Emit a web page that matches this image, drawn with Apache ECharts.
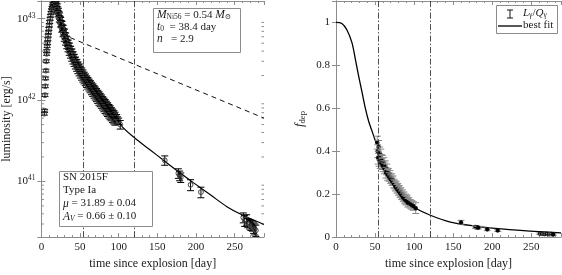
<!DOCTYPE html>
<html><head><meta charset="utf-8">
<script src="https://cdn.jsdelivr.net/npm/echarts@6/dist/echarts.min.js"></script>
<style>html,body{margin:0;padding:0;background:#fff}#c{width:562px;height:275px}</style>
</head><body><div id="c"></div>
<script>
// ---------- data (luminosity in units of 1e42 erg/s) ----------
const LUM_UNIT = 1e42;
const riseDays = [3.8, 4.2, 4.6, 5.0, 5.4, 5.8, 6.3, 6.8, 7.0, 7.5, 7.8, 8.3, 8.7, 9.2, 9.7, 10.2, 10.7, 11.3, 11.9, 12.5, 13.1, 13.8, 14.5, 15.2, 15.8, 16.5, 17.1, 17.8, 18.4];
const riseVals = [0.68, 0.74, 1.15, 1.48, 1.85, 2.3, 3.0, 3.7, 4.0, 4.6, 5.0, 5.6, 6.2, 6.8, 7.5, 8.3, 9.1, 10.0, 10.9, 11.8, 12.7, 13.6, 14.2, 14.7, 15.2, 15.5, 15.6, 15.5, 15.3];
const riseErrFrac = 0.04;

const bandDays = [19.0,19.8,20.5,21.2,22.0,22.8,23.5,24.3,25.0,25.8,26.6,27.4,28.2,29.0,29.8,30.6,31.4,32.2,33.0,33.8,34.6,35.4,36.2,37.0,37.8,38.6,39.4,40.2,41.0,41.8,42.6,43.4,44.2,45.0,45.8,46.6,47.4,48.2,49.0,49.8,50.6,51.4,52.2,53.0,53.8,54.6,55.4,56.2,57.0,57.8,58.6,59.4,60.2,61.0,61.8,62.6,63.4,64.2,65.0,65.8,66.6,67.4,68.2,69.0,69.8,70.6,71.4,72.2,73.0,73.8,74.6,75.4,76.2,77.0,77.8,78.6,79.4,80.2,81.0,81.8,82.6,83.4,84.2,85.0,85.8,86.6,87.4,88.2,89.0,89.8,90.6,91.4,92.2,93.0,93.8,94.6,95.4,96.4,97.4,98.6,100.0];
const bandVals = [15.0,14.2,13.9,12.8,12.3,11.2,10.8,9.8,9.5,8.7,8.5,7.7,7.6,6.9,6.8,6.2,6.1,5.6,5.5,5.0,5.0,4.6,4.6,4.2,4.2,3.85,3.9,3.55,3.6,3.3,3.35,3.05,3.1,2.85,2.9,2.65,2.7,2.5,2.55,2.35,2.4,2.2,2.28,2.08,2.15,1.98,2.02,1.88,1.92,1.78,1.82,1.7,1.74,1.62,1.66,1.55,1.59,1.48,1.52,1.42,1.45,1.35,1.39,1.3,1.33,1.24,1.27,1.19,1.21,1.13,1.16,1.08,1.11,1.03,1.06,0.99,1.01,0.95,0.97,0.91,0.93,0.87,0.89,0.83,0.85,0.79,0.81,0.76,0.78,0.72,0.74,0.69,0.71,0.66,0.68,0.63,0.65,0.6,0.61,0.57,0.55];
// second, slightly offset set of band observations (other filters)
const band2Days = [20.0,21.6,23.2,24.8,26.4,28.0,29.6,31.2,32.8,34.4,36.0,37.6,39.2,40.8,42.4,44.0,45.6,47.2,48.8,50.4,52.0,53.6,55.2,56.8,58.4,60.0,61.6,63.2,64.8,66.4,68.0,69.6,71.2,72.8,74.4,76.0,77.6,79.2,80.8,82.4,84.0,85.6,87.2,88.8,90.4,92.0,93.6,95.2];
const band2Vals = [13.0,11.6,10.0,8.7,7.5,6.6,5.8,5.2,4.7,4.3,3.9,3.6,3.3,3.05,2.85,2.65,2.48,2.32,2.18,2.05,1.93,1.83,1.74,1.65,1.57,1.5,1.42,1.35,1.28,1.22,1.16,1.1,1.05,1.0,0.95,0.91,0.87,0.83,0.79,0.75,0.72,0.69,0.66,0.63,0.61,0.58,0.56,0.54];
const bandErrFrac = 0.09;

const lateDays = [102.0, 159.6, 177.2, 178.8, 180.3, 193.0, 206.4, 261.2, 263.0, 265.5, 267.0, 269.5, 271.0, 273.0, 274.5, 276.0, 277.5];
const lateVals = [0.50, 0.182, 0.126, 0.118, 0.112, 0.091, 0.074, 0.036, 0.033, 0.034, 0.031, 0.030, 0.029, 0.0285, 0.027, 0.026, 0.025];
const lateErr  = [0.06, 0.024, 0.017, 0.016, 0.015, 0.014, 0.011, 0.005, 0.005, 0.005, 0.004, 0.004, 0.004, 0.004, 0.004, 0.004, 0.004];

const fitDays = [18, 20, 25, 30, 40, 55, 70, 85, 102, 120, 140, 158, 180, 197, 220, 240, 260, 288];
const fitVals = [15.5, 14.0, 10.0, 6.8, 3.75, 1.98, 1.25, 0.84, 0.50, 0.346, 0.247, 0.182, 0.126, 0.096, 0.067, 0.049, 0.0386, 0.0296];

const decayDays = [37.3, 288];
const decayVals = [5.85, 0.60];

const markerDays = [54.6, 120];

// f_dep panel
const fdepDays = [52.8,53.4,54.0,54.6,55.2,55.8,56.5,57.3,58.0,58.8,59.6,60.4,61.2,62.0,63.0,64.0,65.0,66.0,67.0,68.0,69.0,70.0,71.0,72.0,73.0,74.0,75.0,76.0,77.0,78.0,79.0,80.0,81.0,82.0,83.0,84.0,85.0,86.0,87.0,88.0,89.0,90.0,91.0,92.0,93.0,95.0,97.0,99.0,102.0,160.0,178.5,180.5,182.0,193.6,207.0,261.0,264.0,267.0,270.0,273.0,276.0,278.0];
const fdepVals = [0.44,0.40,0.37,0.42,0.36,0.39,0.35,0.38,0.36,0.34,0.355,0.33,0.345,0.32,0.33,0.30,0.315,0.29,0.30,0.28,0.29,0.27,0.275,0.26,0.265,0.25,0.245,0.235,0.24,0.225,0.23,0.215,0.22,0.205,0.21,0.195,0.20,0.185,0.19,0.175,0.18,0.17,0.175,0.16,0.165,0.155,0.15,0.145,0.135,0.069,0.047,0.045,0.044,0.036,0.031,0.016,0.015,0.014,0.015,0.013,0.014,0.012];
const fdepErr  = [0.03,0.03,0.03,0.03,0.03,0.03,0.03,0.03,0.025,0.025,0.025,0.025,0.025,0.025,0.025,0.025,0.025,0.025,0.02,0.02,0.02,0.02,0.02,0.02,0.02,0.02,0.02,0.02,0.02,0.02,0.02,0.02,0.02,0.02,0.02,0.02,0.02,0.02,0.02,0.02,0.02,0.02,0.02,0.02,0.02,0.02,0.02,0.02,0.025,0.009,0.006,0.006,0.006,0.006,0.005,0.004,0.004,0.004,0.004,0.004,0.004,0.004];

const fdepFitDays = [0, 7.5, 14, 20.5, 24.7, 29, 33.3, 37.6, 41.8, 46, 50.3, 54.6, 61, 73.8, 86.7, 99.5, 120, 146.5, 180, 200, 240, 288];
const fdepFitVals = [1.0, 0.995, 0.965, 0.905, 0.83, 0.75, 0.675, 0.60, 0.54, 0.495, 0.45, 0.418, 0.335, 0.25, 0.185, 0.14, 0.103, 0.07, 0.05, 0.042, 0.03, 0.02];

const xTicksInterval = 50;

// ---------- chart ----------
const FONT = "'Liberation Serif','DejaVu Serif',serif";
const FRAME = '#8c8c8c';
const TXT = '#1a1a1a';

const lumPoints = [];
riseDays.forEach((d, i) => lumPoints.push([d, riseVals[i] * LUM_UNIT, riseVals[i] * riseErrFrac * LUM_UNIT]));
bandDays.forEach((d, i) => lumPoints.push([d, bandVals[i] * LUM_UNIT, bandVals[i] * bandErrFrac * LUM_UNIT]));
band2Days.forEach((d, i) => lumPoints.push([d, band2Vals[i] * LUM_UNIT, band2Vals[i] * bandErrFrac * LUM_UNIT]));
lateDays.forEach((d, i) => lumPoints.push([d, lateVals[i] * LUM_UNIT, lateErr[i] * LUM_UNIT]));

const fdepPoints = fdepDays.map((d, i) => [d, fdepVals[i], fdepErr[i]]);

function errRenderer(cfg) {
  return function (params, api) {
    const x = api.value(0), y = api.value(1), e = api.value(2);
    const p = api.coord([x, y]);
    const lo = api.coord([x, Math.max(y - e, y * 0.05)]);
    const hi = api.coord([x, y + e]);
    const cw = cfg.cap;
    const ls = { stroke: cfg.bar, lineWidth: cfg.lw };
    const children = [
      { type: 'line', shape: { x1: p[0], y1: lo[1], x2: p[0], y2: hi[1] }, style: ls },
      { type: 'line', shape: { x1: p[0] - cw, y1: lo[1], x2: p[0] + cw, y2: lo[1] }, style: ls },
      { type: 'line', shape: { x1: p[0] - cw, y1: hi[1], x2: p[0] + cw, y2: hi[1] }, style: ls }
    ];
    if (cfg.circle) {
      children.push({ type: 'circle', shape: { cx: p[0], cy: p[1], r: cfg.r }, style: cfg.circle });
    }
    return { type: 'group', children };
  };
}

// log minor tick positions (axis decoration)
const LMIN = 2.07e40, LMAX = 1.65e43;
const minorLog = [];
for (let dec = 40; dec <= 43; dec++) for (let k = 2; k <= 9; k++) {
  const v = k * Math.pow(10, dec);
  if (v > LMIN && v < LMAX) minorLog.push([0, v]);
}

function xAxisCfg(grid, pos, withLabels) {
  return {
    type: 'value', gridIndex: grid, position: pos, min: 0, max: 288, interval: xTicksInterval,
    axisLine: { show: true, onZero: false, lineStyle: { color: FRAME, width: 1 } },
    axisTick: { show: true, inside: true, length: 4, lineStyle: { color: FRAME } },
    minorTick: { show: true, splitNumber: 5, length: 2, lineStyle: { color: FRAME } },
    splitLine: { show: false }, minorSplitLine: { show: false },
    axisLabel: { show: withLabels, showMaxLabel: false, fontFamily: FONT, fontSize: 11, color: TXT, margin: 5 },
    name: withLabels ? 'time since explosion [day]' : '',
    nameLocation: 'middle', nameGap: 20,
    nameTextStyle: { fontFamily: FONT, fontSize: 12, color: TXT }
  };
}

const option = {
  animation: false,
  backgroundColor: '#fff',
  grid: [
    { left: 39, top: 1, width: 225, height: 241 },
    { left: 336, top: 1, width: 225, height: 241 }
  ],
  xAxis: [
    xAxisCfg(0, 'bottom', true),
    xAxisCfg(0, 'top', false),
    xAxisCfg(1, 'bottom', true),
    xAxisCfg(1, 'top', false)
  ],
  yAxis: [
    {
      type: 'log', logBase: 10, gridIndex: 0, position: 'left', min: LMIN, max: LMAX,
      axisLine: { show: true, lineStyle: { color: FRAME } },
      axisTick: { show: true, inside: true, length: 4, lineStyle: { color: FRAME } },
      splitLine: { show: false },
      axisLabel: {
        showMinLabel: false, showMaxLabel: false, margin: 6,
        formatter: v => '{b|10}{s|' + Math.round(Math.log10(v)) + '}',
        rich: {
          b: { fontFamily: FONT, fontSize: 11, lineHeight: 14, color: TXT },
          s: { fontFamily: FONT, fontSize: 7.5, lineHeight: 5, verticalAlign: 'top', color: TXT }
        }
      },
      name: 'luminosity [erg/s]', nameLocation: 'middle', nameGap: 28,
      nameTextStyle: { fontFamily: FONT, fontSize: 12, color: TXT }
    },
    {
      type: 'log', logBase: 10, gridIndex: 0, position: 'right', min: LMIN, max: LMAX,
      axisLine: { show: true, lineStyle: { color: FRAME } },
      axisTick: { show: true, inside: true, length: 4, lineStyle: { color: FRAME } },
      splitLine: { show: false }, axisLabel: { show: false }
    },
    {
      type: 'value', gridIndex: 1, position: 'left', min: 0, max: 1.1, interval: 0.2,
      axisLine: { show: true, lineStyle: { color: FRAME } },
      axisTick: { show: true, inside: true, length: 4, lineStyle: { color: FRAME } },
      splitLine: { show: false },
      axisLabel: { showMaxLabel: false, fontFamily: FONT, fontSize: 11, color: TXT, margin: 6 },
      name: '{f|f}{d|dep}', nameLocation: 'middle', nameGap: 29,
      nameTextStyle: {
        rich: {
          f: { fontFamily: FONT, fontStyle: 'italic', fontSize: 13, lineHeight: 14, color: TXT },
          d: { fontFamily: FONT, fontSize: 8.5, lineHeight: 7, verticalAlign: 'bottom', color: TXT }
        }
      }
    },
    {
      type: 'value', gridIndex: 1, position: 'right', min: 0, max: 1.1, interval: 0.2,
      axisLine: { show: true, lineStyle: { color: FRAME } },
      axisTick: { show: true, inside: true, length: 4, lineStyle: { color: FRAME } },
      splitLine: { show: false }, axisLabel: { show: false }
    }
  ],
  series: [
    {
      type: 'custom', name: 'minorLog', xAxisIndex: 0, yAxisIndex: 0, data: minorLog, silent: true,
      renderItem: function (params, api) {
        const cs = params.coordSys;
        const p = api.coord([0, api.value(1)]);
        const st = { stroke: FRAME, lineWidth: 1 };
        return { type: 'group', children: [
          { type: 'line', shape: { x1: cs.x, y1: p[1], x2: cs.x + 2.5, y2: p[1] }, style: st },
          { type: 'line', shape: { x1: cs.x + cs.width - 2.5, y1: p[1], x2: cs.x + cs.width, y2: p[1] }, style: st }
        ] };
      }
    },
    {
      type: 'line', name: 'decay', xAxisIndex: 0, yAxisIndex: 0, showSymbol: false, silent: true,
      data: decayDays.map((d, i) => [d, decayVals[i] * LUM_UNIT]),
      lineStyle: { color: '#111', width: 1, type: [5, 4] }, z: 3
    },
    {
      type: 'line', name: 'fit', xAxisIndex: 0, yAxisIndex: 0, showSymbol: false, silent: true, smooth: 0.3,
      data: fitDays.map((d, i) => [d, fitVals[i] * LUM_UNIT]),
      lineStyle: { color: '#000', width: 1.2 }, z: 3,
      markLine: {
        silent: true, symbol: 'none', label: { show: false },
        lineStyle: { color: '#222', width: 0.8, type: [6, 2, 1.5, 2] },
        data: markerDays.map(d => ({ xAxis: d }))
      }
    },
    {
      type: 'custom', name: 'lum', xAxisIndex: 0, yAxisIndex: 0, data: lumPoints, clip: true, z: 4,
      renderItem: errRenderer({ bar: '#000', lw: 1, cap: 3.5, r: 2.4,
        circle: { fill: 'rgba(255,255,255,0)', stroke: '#444', lineWidth: 1 } })
    },
    {
      type: 'line', name: 'fdepFit', xAxisIndex: 2, yAxisIndex: 2, showSymbol: false, silent: true, smooth: 0.3,
      data: fdepFitDays.map((d, i) => [d, fdepFitVals[i]]),
      lineStyle: { color: '#000', width: 1.3 }, z: 3,
      markLine: {
        silent: true, symbol: 'none', label: { show: false },
        lineStyle: { color: '#222', width: 0.8, type: [6, 2, 1.5, 2] },
        data: markerDays.map(d => ({ xAxis: d }))
      }
    },
    {
      type: 'custom', name: 'fdep', xAxisIndex: 2, yAxisIndex: 2, data: fdepPoints, clip: true, z: 4,
      renderItem: errRenderer({ bar: '#8a8a8a', lw: 1, cap: 3.5, r: 1.9,
        circle: { fill: '#000', stroke: '#000', lineWidth: 0.6 } })
    }
  ],
  graphic: [
    { type: 'rect', z: 100, shape: { x: 153.5, y: 8.5, width: 87, height: 44 },
      style: { fill: '#fff', stroke: FRAME, lineWidth: 1 } },
    { type: 'text', z: 101, x: 157, y: 9,
      style: {
        text: '{i|M}{sub|Ni56}{r| = 0.54 }{i|M}{sub|⊙}\n{i|t}{sub|0}{r|  = 38.4 day}\n{i|n}{r|   = 2.9}',
        fill: TXT, font: '11px ' + FONT,
        rich: {
          i: { fontFamily: FONT, fontStyle: 'italic', fontSize: 11.5, lineHeight: 12, fill: TXT },
          r: { fontFamily: FONT, fontSize: 11, lineHeight: 12, fill: TXT },
          sub: { fontFamily: FONT, fontSize: 7.5, lineHeight: 6, verticalAlign: 'bottom', fill: TXT }
        }
      } },
    { type: 'rect', z: 100, shape: { x: 59.5, y: 171.5, width: 93, height: 55 },
      style: { fill: '#fff', stroke: FRAME, lineWidth: 1 } },
    { type: 'text', z: 101, x: 63, y: 171,
      style: {
        text: '{r|SN 2015F}\n{r|Type Ia}\n{i|μ}{r| = 31.89 ± 0.04}\n{i|A}{sub|V}{r| = 0.66 ± 0.10}',
        fill: TXT, font: '11px ' + FONT,
        rich: {
          i: { fontFamily: FONT, fontStyle: 'italic', fontSize: 11.5, lineHeight: 13, fill: TXT },
          r: { fontFamily: FONT, fontSize: 11, lineHeight: 13, fill: TXT },
          sub: { fontFamily: FONT, fontStyle: 'italic', fontSize: 7.5, lineHeight: 6, verticalAlign: 'bottom', fill: TXT }
        }
      } },
    { type: 'rect', z: 100, shape: { x: 496.5, y: 5.5, width: 61, height: 28 },
      style: { fill: '#fff', stroke: FRAME, lineWidth: 1 } },
    { type: 'line', z: 101, shape: { x1: 510, y1: 10, x2: 510, y2: 18 }, style: { stroke: '#111', lineWidth: 1 } },
    { type: 'line', z: 101, shape: { x1: 507, y1: 10, x2: 513, y2: 10 }, style: { stroke: '#111', lineWidth: 1 } },
    { type: 'line', z: 101, shape: { x1: 507, y1: 18, x2: 513, y2: 18 }, style: { stroke: '#111', lineWidth: 1 } },
    { type: 'text', z: 101, x: 523, y: 7,
      style: {
        text: '{i|L}{sub|γ}{r|/}{i|Q}{sub|γ}',
        fill: TXT, font: '11px ' + FONT,
        rich: {
          i: { fontFamily: FONT, fontStyle: 'italic', fontSize: 11, lineHeight: 12, fill: TXT },
          r: { fontFamily: FONT, fontSize: 11, lineHeight: 12, fill: TXT },
          sub: { fontFamily: FONT, fontSize: 7.5, lineHeight: 6, verticalAlign: 'bottom', fill: TXT }
        }
      } },
    { type: 'line', z: 101, shape: { x1: 498, y1: 26, x2: 522, y2: 26 }, style: { stroke: '#111', lineWidth: 1.4 } },
    { type: 'text', z: 101, x: 523, y: 20,
      style: { text: 'best fit', fill: TXT, font: '11px ' + FONT } }
  ]
};

const chart = echarts.init(document.getElementById('c'), null, { renderer: 'canvas' });
chart.setOption(option);
</script>
</body></html>
